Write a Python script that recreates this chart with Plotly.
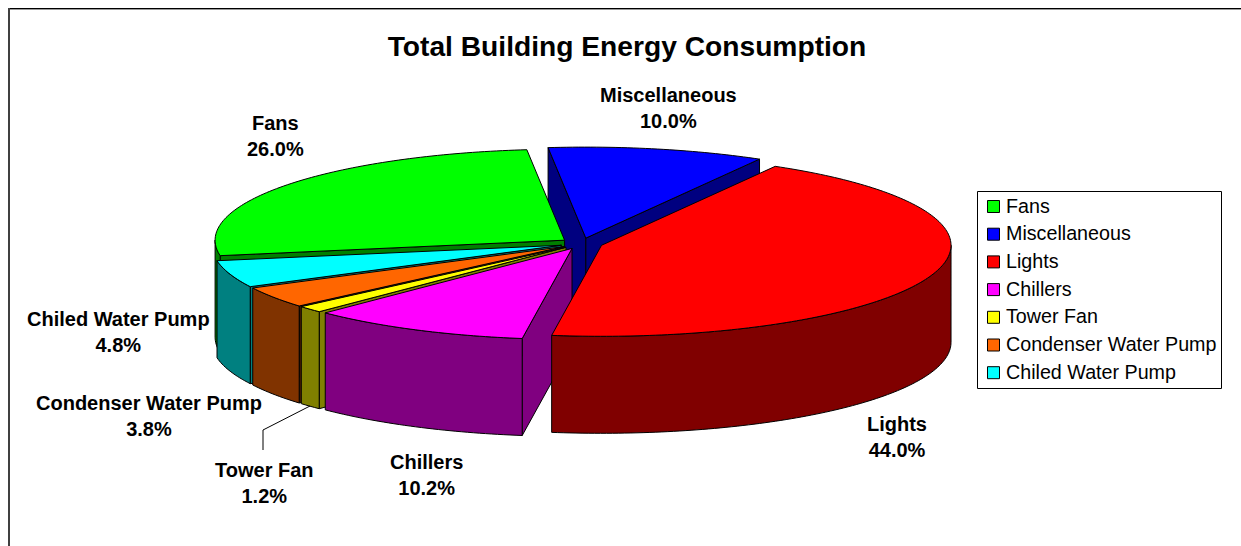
import math
import plotly.graph_objects as go

# ---- data ----
categories = ["Fans", "Miscellaneous", "Lights", "Chillers", "Tower Fan",
              "Condenser Water Pump", "Chiled Water Pump"]
shares = [26.0, 10.0, 44.0, 10.2, 1.2, 3.8, 4.8]
top_colors = ["#00FF00", "#0000FF", "#FF0000", "#FF00FF", "#FFFF00", "#FF6600", "#00FFFF"]
side_colors = ["#008000", "#000080", "#800000", "#800080", "#808000", "#803300", "#008080"]
cut_colors = ["#008000", "#000080", "#800000", "#800080", "#808000", "#4D1F00", "#008080"]
label_centers = [(275, 136), (668, 108), (897, 437), (426, 475), (264, 483), (149, 416), (118, 332)]
draw_order = [1, 0, 6, 5, 4, 3, 2]

# ---- pie projection ----
W, H = 1241, 546
CX, CY = 581.5, 243.5
RX, RY = 349.5, 91
EXPLODE = 21.2 / 350
DEPTH = 97
START = 260.2
FONT = "Liberation Sans, Arial, sans-serif"


def rim(cx, cy, a):
    r = math.radians(a)
    return cx + RX * math.sin(r), cy - RY * math.cos(r)


def arc(cx, cy, a1, a2):
    n = max(2, int(abs(a2 - a1) / 1.0) + 1)
    return [rim(cx, cy, a1 + (a2 - a1) * i / (n - 1)) for i in range(n)]


def poly(fig, pts, color, width=1.0):
    fig.add_trace(go.Scatter(
        x=[p[0] for p in pts] + [pts[0][0]],
        y=[p[1] for p in pts] + [pts[0][1]],
        mode="lines", fill="toself", fillcolor=color,
        line=dict(color="black", width=width, simplify=False),
        showlegend=False, hoverinfo="skip"))


fig = go.Figure()

spans = []
a = START
for s in shares:
    spans.append((a, a + s * 3.6))
    a += s * 3.6

for i in draw_order:
    a1, a2 = spans[i]
    mid = math.radians((a1 + a2) / 2)
    cx = CX + RX * EXPLODE * math.sin(mid)
    cy = CY - RY * EXPLODE * math.cos(mid)
    apex = (cx, cy)
    # radial cut faces, only when turned to the viewer
    if math.sin(math.radians(a1)) < 0:
        p = rim(cx, cy, a1)
        poly(fig, [apex, p, (p[0], p[1] + DEPTH), (cx, cy + DEPTH)], cut_colors[i])
    if math.sin(math.radians(a2)) > 0:
        p = rim(cx, cy, a2)
        poly(fig, [apex, p, (p[0], p[1] + DEPTH), (cx, cy + DEPTH)], cut_colors[i])
    # outer wall on the front half
    for lo, hi in ((90, 270), (450, 630)):
        b1, b2 = max(a1, lo), min(a2, hi)
        if b2 > b1:
            edge = arc(cx, cy, b1, b2)
            poly(fig, edge + [(x, y + DEPTH) for x, y in reversed(edge)], side_colors[i])
    # top face
    poly(fig, [apex] + arc(cx, cy, a1, a2), top_colors[i])

# leader line for the Tower Fan label
leader_x = [263, 263, 310]
leader_y = [450, 430, 406]
fig.add_trace(go.Scatter(x=leader_x, y=leader_y, mode="lines",
                         line=dict(color="black", width=1),
                         showlegend=False, hoverinfo="skip"))

# legend box
LEG_X0, LEG_X1, LEG_Y0, LEG_Y1 = 977.5, 1221.5, 191.5, 388.5
LEG_KEY_X, LEG_TEXT_X, LEG_FIRST_Y, LEG_STEP = 993.5, 1006, 206.5, 27.7
leg_y = [LEG_FIRST_Y + i * LEG_STEP for i in range(len(categories))]
fig.add_trace(go.Scatter(
    x=[LEG_KEY_X] * len(categories), y=leg_y, mode="markers",
    marker=dict(symbol="square", size=12, color=top_colors, line=dict(color="black", width=1)),
    showlegend=False, hoverinfo="skip"))

annotations = []
for name, share, (x, y) in zip(categories, shares, label_centers):
    annotations.append(dict(x=x, y=y, xref="x", yref="y", showarrow=False,
                            text=f"<b>{name}<br>{share:.1f}%</b>",
                            font=dict(family=FONT, size=20, color="black"),
                            xanchor="center", yanchor="middle", align="center"))
for name, y in zip(categories, leg_y):
    annotations.append(dict(x=LEG_TEXT_X, y=y, xref="x", yref="y", showarrow=False,
                            text=name, xanchor="left", yanchor="middle", xshift=-2, yshift=1,
                            font=dict(family=FONT, size=19.7, color="black")))

shapes = [
    dict(type="rect", xref="x", yref="y", x0=LEG_X0, x1=LEG_X1, y0=LEG_Y0, y1=LEG_Y1,
         line=dict(color="black", width=1), fillcolor="rgba(0,0,0,0)", layer="below"),
    dict(type="line", xref="x", yref="y", x0=8, x1=W, y0=8.5, y1=8.5, line=dict(color="black", width=1)),
    dict(type="line", xref="x", yref="y", x0=9, x1=W, y0=9.5, y1=9.5, line=dict(color="#999999", width=1)),
    dict(type="line", xref="x", yref="y", x0=9, x1=9, y0=8, y1=H, line=dict(color="#404040", width=2)),
]

fig.update_layout(
    width=W, height=H,
    margin=dict(l=0, r=0, t=0, b=0, pad=0),
    paper_bgcolor="white", plot_bgcolor="white",
    showlegend=False,
    title=dict(text="<b>Total Building Energy Consumption</b>",
               x=627 / W, xanchor="center", y=1 - 46 / H, yanchor="middle",
               font=dict(family=FONT, size=28.2, color="black")),
    xaxis=dict(range=[0, W], visible=False, fixedrange=True),
    yaxis=dict(range=[H, 0], visible=False, fixedrange=True),
    annotations=annotations, shapes=shapes,
)

fig.write_html("out.html", config=dict(displayModeBar=False),
               post_script="document.body.style.margin='0';document.documentElement.style.overflow='hidden';")
